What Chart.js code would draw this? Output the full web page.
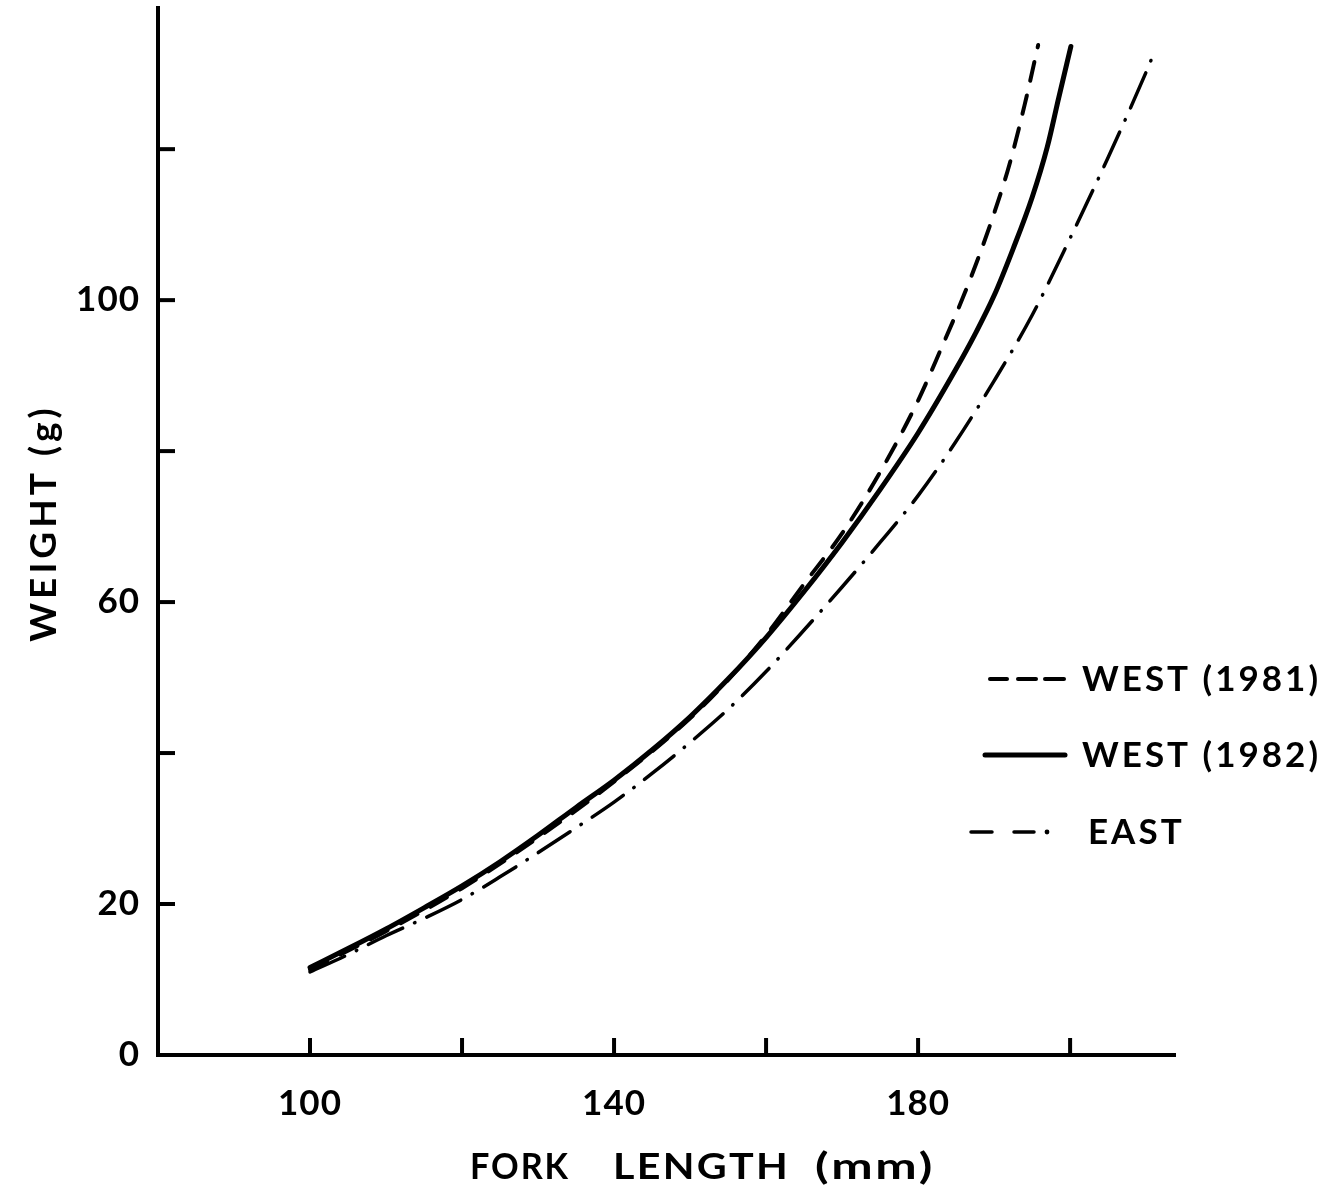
<!DOCTYPE html>
<html>
<head>
<meta charset="utf-8">
<title>Weight–length relationships</title>
<script src="https://cdn.jsdelivr.net/npm/chart.js@4.4.1/dist/chart.umd.min.js"></script>
<style>
  html, body { margin: 0; padding: 0; background: #fff; }
  #wrap { width: 1340px; height: 1196px; position: relative; }
</style>
</head>
<body>
<div id="wrap"><canvas id="chart"></canvas></div>
<script>
// Fork length (mm) and weight (g)
const west1981Length = [100, 110, 120, 130, 140, 150, 155, 160, 165, 170, 175, 180, 183, 186, 188, 190, 192, 194, 195.8];
const west1981Weight = [11.3, 16.4, 22.1, 28.8, 36.2, 44.6, 49.7, 55.6, 62.4, 69.1, 77.2, 86.7, 93.5, 100.6, 105.8, 111.5, 117.9, 125.8, 133.8];

const west1982Length = [100, 105, 110, 115, 120, 125, 130, 135, 140, 145, 150, 155, 160, 165, 170, 175, 180, 185, 187.5, 190, 192.5, 195, 197, 198.5, 200.1];
const west1982Weight = [11.6, 14.1, 16.7, 19.5, 22.4, 25.6, 29.1, 32.8, 36.4, 40.4, 44.8, 49.8, 55.3, 61.4, 67.9, 74.9, 82.4, 90.9, 95.5, 100.6, 106.8, 113.6, 120.3, 126.8, 133.6];

const eastLength = [100, 105, 110, 115, 120, 125, 130, 135, 140, 145, 150, 155, 160, 165, 170, 175, 180, 185, 190, 195, 200, 205, 210, 210.7];
const eastWeight = [11.0, 13.3, 15.8, 18.1, 20.6, 23.6, 26.8, 30.1, 33.5, 37.3, 41.4, 45.8, 50.8, 56.3, 62.0, 67.9, 74.1, 81.3, 89.3, 98.0, 108.2, 118.9, 130.2, 131.9];

// Axis ticks and the subset that carries a printed label
const xTickValues = [100, 120, 140, 160, 180, 200];
const xTickLabels = [100, 140, 180];
const yTickValues = [20, 40, 60, 80, 100, 120];
const yTickLabels = [0, 20, 60, 100];

const seriesNames = ['WEST (1981)', 'WEST (1982)', 'EAST'];
const xTitleWords = ['FORK', 'LENGTH', '(mm)'];
const yTitle = 'WEIGHT (g)';

const FONT = "'Lato', 'DejaVu Sans', sans-serif";
const INK = '#000';

function points(xs, ys) {
  return xs.map((x, i) => ({ x: x, y: ys[i] }));
}

// Slightly open letter spacing for every label on the canvas
const spacing = {
  id: 'spacing',
  beforeDraw(chart) { chart.ctx.letterSpacing = '1px'; }
};

// Short inward tick marks on both axes
const innerTicks = {
  id: 'innerTicks',
  afterDatasetsDraw(chart) {
    const { ctx, chartArea, scales } = chart;
    ctx.save();
    ctx.strokeStyle = INK;
    ctx.lineWidth = 4;
    ctx.lineCap = 'butt';
    yTickValues.forEach(v => {
      const y = scales.y.getPixelForValue(v);
      ctx.beginPath();
      ctx.moveTo(chartArea.left, y);
      ctx.lineTo(chartArea.left + 17, y);
      ctx.stroke();
    });
    xTickValues.forEach(v => {
      const x = scales.x.getPixelForValue(v);
      ctx.beginPath();
      ctx.moveTo(x, chartArea.bottom);
      ctx.lineTo(x, chartArea.bottom - 17);
      ctx.stroke();
    });
    ctx.restore();
  }
};

// Axis titles in a wide, widely tracked face
const axisTitles = {
  id: 'axisTitles',
  afterDraw(chart) {
    const { ctx } = chart;
    ctx.save();
    ctx.fillStyle = INK;
    ctx.textBaseline = 'alphabetic';
    ctx.textAlign = 'left';
    ctx.font = "bold 36px " + FONT;
    ctx.letterSpacing = '2px';
    const wordLeft = [470, 613, 815];
    const wordWidth = [100, 177, 120];
    xTitleWords.forEach((w, i) => {
      const m = ctx.measureText(w).width;
      ctx.save();
      ctx.translate(wordLeft[i], 1179);
      ctx.scale(wordWidth[i] / m, 1);
      ctx.fillText(w, 0, 0);
      ctx.restore();
    });
    ctx.translate(56, 523);
    ctx.rotate(-Math.PI / 2);
    ctx.textAlign = 'center';
    ctx.font = "bold 37px " + FONT;
    ctx.letterSpacing = '4px';
    ctx.fillText(yTitle, 0, 0);
    ctx.restore();
  }
};

// Key drawn inside the plot area at the right
const keyBox = {
  id: 'keyBox',
  afterDraw(chart) {
    const { ctx } = chart;
    const ds = chart.data.datasets;
    const rows = [
      { y: 679, tx: 1082 },
      { y: 755, tx: 1082 },
      { y: 832, tx: 1088 }
    ];
    ctx.save();
    ctx.strokeStyle = INK;
    ctx.fillStyle = INK;
    // dashed sample
    ctx.lineCap = 'round';
    ctx.lineWidth = 4;
    [[990, 1007], [1018, 1036], [1045, 1064]].forEach(s => {
      ctx.beginPath(); ctx.moveTo(s[0], rows[0].y); ctx.lineTo(s[1], rows[0].y); ctx.stroke();
    });
    // solid sample
    ctx.lineWidth = 5;
    ctx.beginPath(); ctx.moveTo(985, rows[1].y); ctx.lineTo(1065, rows[1].y); ctx.stroke();
    // dash-dot sample
    ctx.lineWidth = 3.5;
    [[971, 992], [1014, 1034]].forEach(s => {
      ctx.beginPath(); ctx.moveTo(s[0], rows[2].y); ctx.lineTo(s[1], rows[2].y); ctx.stroke();
    });
    ctx.beginPath(); ctx.arc(1047, rows[2].y, 2.4, 0, Math.PI * 2); ctx.fill();

    ctx.font = "bold 35px " + FONT;
    ctx.letterSpacing = '3px';
    ctx.textBaseline = 'middle';
    ctx.textAlign = 'left';
    rows.forEach((r, i) => ctx.fillText(ds[i].label, r.tx, r.y + 1));
    ctx.restore();
  }
};

const chart = new Chart(document.getElementById('chart'), {
  type: 'line',
  data: {
    datasets: [
      {
        label: seriesNames[0],
        data: points(west1981Length, west1981Weight),
        borderColor: INK,
        borderWidth: 4,
        borderDash: [19, 15],
        borderCapStyle: 'round',
        pointRadius: 0,
        cubicInterpolationMode: 'monotone',
        fill: false
      },
      {
        label: seriesNames[1],
        data: points(west1982Length, west1982Weight),
        borderColor: INK,
        borderWidth: 5,
        borderCapStyle: 'round',
        pointRadius: 0,
        cubicInterpolationMode: 'monotone',
        fill: false
      },
      {
        label: seriesNames[2],
        data: points(eastLength, eastWeight),
        borderColor: INK,
        borderWidth: 3.5,
        borderDash: [38, 13, 0.5, 13],
        borderCapStyle: 'round',
        pointRadius: 0,
        cubicInterpolationMode: 'monotone',
        fill: false
      }
    ]
  },
  options: {
    responsive: true,
    maintainAspectRatio: false,
    animation: false,
    events: [],
    layout: { padding: { top: 8, right: 165, left: 0, bottom: 0 } },
    plugins: {
      legend: { display: false },
      tooltip: { enabled: false }
    },
    scales: {
      x: {
        type: 'linear',
        min: 80,
        max: 213.8,
        grid: { display: false },
        border: { display: true, color: INK, width: 4 },
        ticks: {
          stepSize: 20,
          padding: 20,
          color: INK,
          font: { family: FONT, size: 35, weight: 'bold' },
          maxRotation: 0,
          autoSkip: false,
          callback: v => xTickLabels.includes(v) ? String(v) : ''
        },
        afterFit(scale) {
          scale.height = 141;
          scale.paddingLeft = 0;
          scale.paddingRight = 0;
        }
      },
      y: {
        type: 'linear',
        min: 0,
        max: 138.7,
        grid: { display: false },
        border: { display: true, color: INK, width: 4 },
        ticks: {
          stepSize: 20,
          padding: 10,
          color: INK,
          font: { family: FONT, size: 35, weight: 'bold' },
          autoSkip: false,
          callback: v => yTickLabels.includes(v) ? String(v) : ''
        },
        afterFit(scale) {
          scale.width = 158;
          scale.paddingTop = 0;
          scale.paddingBottom = 0;
        }
      }
    }
  },
  plugins: [spacing, innerTicks, axisTitles, keyBox]
});
</script>
</body>
</html>
